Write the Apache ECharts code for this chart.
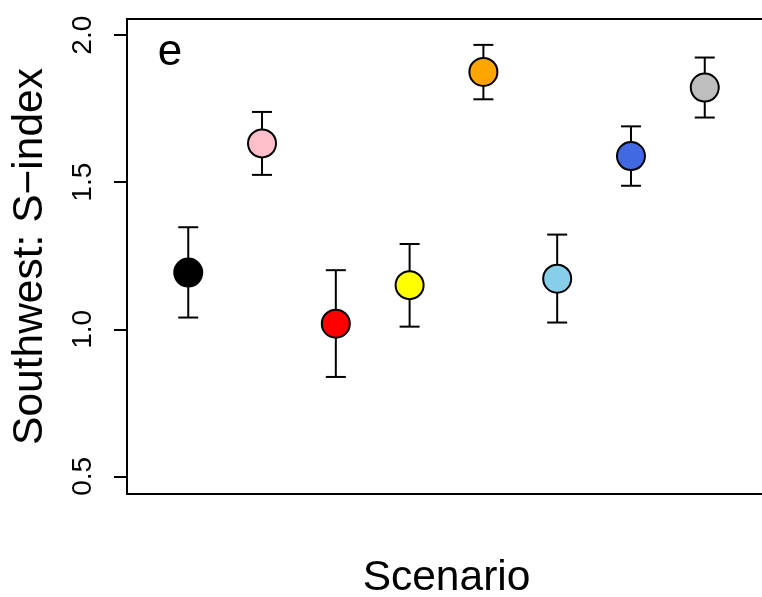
<!DOCTYPE html>
<html>
<head>
<meta charset="utf-8">
<script src="https://cdn.jsdelivr.net/npm/echarts@6/dist/echarts.min.js"></script>
<style>
  html, body { margin: 0; padding: 0; background: #fff; }
  #chart { width: 762px; height: 597px; }
</style>
</head>
<body>
<div id="chart"></div>
<script>
// scenario data
const scenarios = [1, 2, 3, 4, 5, 6, 7, 8]
const means = [1.193, 1.632, 1.019, 1.150, 1.875, 1.172, 1.589, 1.822]
const lower = [1.040, 1.525, 0.838, 1.009, 1.782, 1.023, 1.488, 1.720]
const upper = [1.347, 1.739, 1.201, 1.290, 1.967, 1.322, 1.690, 1.924]
const yTicks = [0.5, 1.0, 1.5, 2.0]

// point fill colours
const pointColors = ['#000000', '#FFC0CB', '#FF0000', '#FFFF00', '#FFA500', '#87CEEB', '#4169E1', '#BEBEBE']

const font = '"Liberation Sans", Arial, Helvetica, sans-serif'
const myChart = echarts.init(document.getElementById('chart'))

const option = {
  animation: false,
  backgroundColor: '#ffffff',
  grid: {
    left: 127,
    right: -4,
    top: 19,
    bottom: 103,
    outerBoundsMode: 'none',
    containLabel: false,
    show: true,
    borderColor: '#000',
    borderWidth: 2,
    backgroundColor: 'transparent'
  },
  xAxis: {
    type: 'value',
    min: 0.17,
    max: 8.83,
    name: 'Scenario',
    nameLocation: 'middle',
    nameGap: 63,
    nameTextStyle: { fontFamily: font, fontSize: 42.5, color: '#000' },
    axisLine: { show: false },
    axisTick: { show: false },
    axisLabel: { show: false },
    splitLine: { show: false }
  },
  yAxis: {
    type: 'value',
    min: 0.44,
    max: 2.055,
    name: 'Southwest: S\u2212index',
    nameLocation: 'middle',
    nameRotate: 90,
    nameGap: 75,
    nameTextStyle: { fontFamily: font, fontSize: 42.5, color: '#000' },
    axisLine: { show: false },
    axisTick: {
      show: true,
      length: 13,
      customValues: yTicks,
      lineStyle: { color: '#000', width: 2 }
    },
    axisLabel: {
      rotate: 90,
      margin: 30,
      customValues: yTicks,
      fontFamily: font,
      fontSize: 28,
      color: '#000',
      formatter: (v) => v.toFixed(1)
    },
    splitLine: { show: false }
  },
  graphic: [
    {
      type: 'text',
      x: 170,
      y: 53,
      style: {
        text: 'e',
        fontFamily: font,
        fontSize: 44,
        fill: '#000',
        align: 'center',
        verticalAlign: 'middle'
      }
    }
  ],
  series: [
    // error bars
    {
      type: 'custom',
      z: 2,
      data: scenarios.map((s, i) => [s, lower[i], upper[i]]),
      renderItem: (params, api) => {
        const lo = api.coord([api.value(0), api.value(1)])
        const hi = api.coord([api.value(0), api.value(2)])
        const half = 10
        const style = { stroke: '#000', lineWidth: 2 }
        return {
          type: 'group',
          children: [
            { type: 'line', shape: { x1: lo[0], y1: lo[1], x2: hi[0], y2: hi[1] }, style },
            { type: 'line', shape: { x1: hi[0] - half, y1: hi[1], x2: hi[0] + half, y2: hi[1] }, style },
            { type: 'line', shape: { x1: lo[0] - half, y1: lo[1], x2: lo[0] + half, y2: lo[1] }, style }
          ]
        }
      }
    },
    // mean points
    {
      type: 'scatter',
      z: 3,
      symbol: 'circle',
      symbolSize: 28,
      data: scenarios.map((s, i) => ({
        value: [s, means[i]],
        itemStyle: { color: pointColors[i], borderColor: '#000', borderWidth: 2, opacity: 1 }
      }))
    }
  ]
}

myChart.setOption(option)
</script>
</body>
</html>
